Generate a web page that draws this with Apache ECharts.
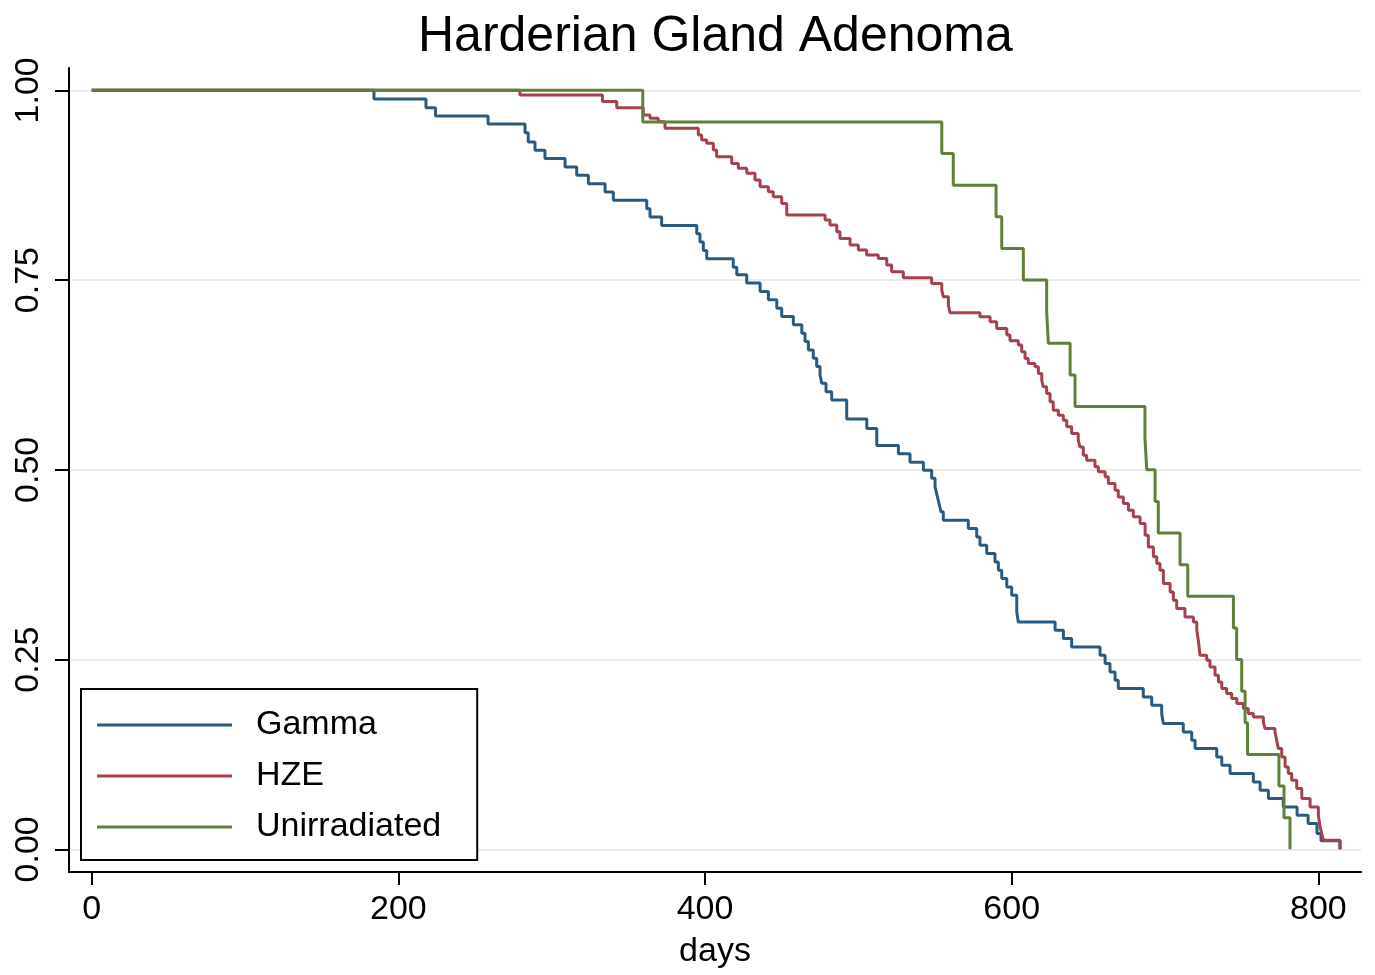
<!DOCTYPE html>
<html>
<head>
<meta charset="utf-8">
<script src="https://cdn.jsdelivr.net/npm/echarts@6/dist/echarts.min.js"></script>
<style>
  html, body { margin: 0; padding: 0; background: #fff; }
  #chart { width: 1375px; height: 975px; }
</style>
</head>
<body>
<div id="chart"></div>
<script>
const titleText = 'Harderian Gland Adenoma';
const xName = 'days';
const seriesNames = ['Gamma', 'HZE', 'Unirradiated'];
const xTicks = [0, 200, 400, 600, 800];
const yTicks = [0, 0.25, 0.5, 0.75, 1];

const gammaDays = [0, 184.1, 218.0, 224.2, 258.5, 282.6, 284.7, 289.1, 295.6, 308.7, 316.3, 323.9, 334.8, 340.2, 362.0, 364.1, 371.7, 394.6, 396.7, 398.9, 401.1, 418.4, 420.7, 427.2, 435.9, 441.3, 446.8, 450.0, 457.6, 463.1, 465.2, 467.4, 470.6, 472.8, 475.0, 476.1, 478.9, 482.6, 492.4, 505.5, 512.0, 526.1, 533.7, 542.4, 547.8, 550.0, 551.3, 552.6, 553.9, 555.4, 571.7, 577.2, 579.3, 583.7, 589.1, 591.3, 593.5, 596.8, 600.0, 603.3, 604.3, 628.3, 633.7, 639.1, 657.6, 660.9, 664.1, 667.4, 669.5, 685.8, 691.3, 697.8, 698.9, 711.9, 717.4, 719.6, 733.7, 737.0, 742.4, 757.6, 762.0, 767.4, 777.1, 786.1, 793.3, 799.1, 801.7, 814.1];
const gammaSurv = [1, 0.9885, 0.977, 0.966, 0.9556, 0.944, 0.932, 0.921, 0.910, 0.899, 0.888, 0.877, 0.866, 0.855, 0.844, 0.833, 0.822, 0.811, 0.800, 0.789, 0.778, 0.767, 0.757, 0.746, 0.735, 0.724, 0.713, 0.702, 0.691, 0.680, 0.669, 0.658, 0.647, 0.636, 0.625, 0.614, 0.603, 0.592, 0.567, 0.5545, 0.532, 0.521, 0.510, 0.4995, 0.489, 0.4775, 0.4666, 0.4556, 0.4446, 0.4336, 0.4227, 0.4116, 0.4007, 0.3897, 0.3787, 0.3677, 0.3568, 0.3457, 0.3348, 0.3128, 0.2996, 0.2886, 0.2777, 0.2666, 0.2557, 0.2448, 0.2337, 0.2227, 0.2118, 0.2007, 0.1898, 0.1789, 0.1657, 0.1546, 0.1437, 0.1327, 0.1217, 0.1107, 0.0998, 0.0887, 0.0778, 0.0668, 0.0558, 0.0448, 0.0339, 0.0207, 0.0112, 0];

const hzeDays = [0, 279.3, 333.1, 342.4, 359.7, 364.1, 369.5, 373.9, 395.6, 397.8, 401.1, 405.4, 407.6, 417.4, 421.7, 427.2, 432.6, 435.9, 441.3, 444.5, 450.0, 453.3, 478.3, 481.5, 485.9, 488.0, 494.6, 500.0, 505.4, 513.0, 518.5, 521.7, 529.3, 547.8, 554.4, 555.4, 558.7, 559.8, 579.3, 585.9, 590.2, 596.8, 598.9, 604.3, 606.5, 608.7, 610.8, 615.2, 617.4, 619.6, 620.6, 622.8, 625.0, 627.1, 630.4, 633.7, 635.9, 639.1, 643.4, 644.5, 646.7, 648.9, 654.3, 656.5, 660.9, 663.0, 667.4, 669.5, 672.8, 676.1, 679.3, 683.7, 687.0, 689.1, 692.4, 694.6, 696.7, 698.9, 703.3, 705.4, 707.6, 713.0, 718.5, 720.7, 721.7, 722.8, 727.2, 729.3, 732.6, 734.8, 737.0, 740.2, 743.5, 746.8, 751.1, 754.3, 757.6, 764.1, 765.2, 771.7, 772.8, 773.9, 776.1, 778.3, 780.4, 782.6, 785.9, 789.2, 794.6, 800.0, 801.1, 802.2, 803.2, 814.1];
const hzeSurv = [1, 0.9938, 0.9852, 0.9770, 0.9674, 0.9631, 0.9586, 0.9499, 0.9411, 0.9345, 0.9301, 0.9213, 0.9124, 0.9037, 0.8972, 0.8906, 0.8817, 0.8729, 0.8663, 0.8597, 0.8510, 0.8356, 0.8290, 0.8224, 0.8136, 0.8049, 0.7961, 0.7895, 0.7829, 0.7785, 0.7697, 0.7609, 0.7530, 0.7456, 0.7368, 0.7279, 0.7170, 0.7068, 0.7016, 0.6950, 0.6863, 0.6775, 0.6700, 0.6643, 0.6554, 0.6467, 0.6401, 0.6357, 0.6270, 0.6181, 0.6093, 0.6006, 0.5896, 0.5786, 0.5720, 0.5654, 0.5566, 0.5479, 0.5391, 0.5302, 0.5193, 0.5127, 0.5039, 0.4973, 0.4907, 0.4820, 0.4732, 0.4643, 0.4556, 0.4468, 0.4380, 0.4293, 0.4139, 0.3984, 0.3853, 0.3765, 0.3677, 0.3502, 0.3391, 0.3282, 0.3172, 0.3062, 0.2996, 0.2886, 0.2755, 0.2557, 0.2491, 0.2403, 0.2293, 0.2205, 0.2118, 0.2052, 0.1986, 0.1920, 0.1854, 0.1789, 0.1744, 0.1678, 0.1591, 0.1546, 0.1437, 0.1327, 0.1217, 0.1085, 0.0998, 0.0909, 0.0800, 0.0668, 0.0558, 0.0448, 0.0294, 0.0207, 0.0119, 0];

const unirrDays = [0, 359.4, 554.4, 561.9, 589.8, 593.5, 607.6, 622.8, 623.9, 638.1, 641.3, 686.9, 688.1, 693.5, 695.6, 709.8, 714.8, 744.6, 746.7, 750.0, 752.2, 753.8, 774.3, 777.6, 781.5];
const unirrSurv = [1, 0.9583, 0.9167, 0.875, 0.8333, 0.7917, 0.75, 0.7083, 0.6667, 0.625, 0.5833, 0.5417, 0.5, 0.4583, 0.4167, 0.375, 0.3333, 0.2917, 0.25, 0.2083, 0.1667, 0.125, 0.0833, 0.0417, 0];

const seriesColors = ['#2a5a80', '#a5404d', '#5f8038'];
const FONT = '"Liberation Sans", Arial, Helvetica, sans-serif';

function zip(xs, ys) { return xs.map((x, i) => [x, ys[i]]); }
const seriesData = [zip(gammaDays, gammaSurv), zip(hzeDays, hzeSurv), zip(unirrDays, unirrSurv)];

const chart = echarts.init(document.getElementById('chart'), null, { renderer: 'canvas' });
chart.setOption({
  animation: false,
  backgroundColor: '#fff',
  textStyle: { fontFamily: FONT },
  title: {
    text: titleText,
    left: 418,
    top: 12,
    padding: 0,
    textStyle: { fontFamily: FONT, fontSize: 50, fontWeight: 'normal', color: '#000' }
  },
  grid: { left: 69, right: 14, top: 68, bottom: 103, containLabel: false },
  legend: {
    orient: 'vertical',
    left: 81,
    top: 689,
    icon: 'rect',
    itemWidth: 135,
    itemHeight: 3,
    itemGap: 17,
    padding: [19, 36, 16, 16],
    borderColor: '#000',
    borderWidth: 2,
    backgroundColor: '#fff',
    textStyle: { fontFamily: FONT, fontSize: 34, color: '#000', padding: [0, 0, 0, 19] },
    data: seriesNames
  },
  xAxis: {
    type: 'value',
    min: -14.8,
    max: 827.8,
    name: xName,
    nameLocation: 'middle',
    nameGap: 63,
    nameTextStyle: { fontFamily: FONT, fontSize: 34, color: '#000' },
    axisLine: { show: true, onZero: false, lineStyle: { color: '#000', width: 2 } },
    axisTick: { show: true, length: 13, customValues: xTicks, lineStyle: { color: '#000', width: 2 } },
    axisLabel: { customValues: xTicks, fontFamily: FONT, fontSize: 34, color: '#000', margin: 21 },
    splitLine: { show: false }
  },
  yAxis: {
    type: 'value',
    min: -0.0299,
    max: 1.0294,
    axisLine: { show: true, onZero: false, lineStyle: { color: '#000', width: 2 } },
    axisTick: { show: true, length: 14, customValues: yTicks, lineStyle: { color: '#000', width: 2 } },
    axisLabel: {
      customValues: yTicks,
      rotate: 90,
      fontFamily: FONT, fontSize: 34, color: '#000', margin: 23,
      formatter: v => Number(v).toFixed(2)
    },
    splitLine: { show: true, lineStyle: { color: '#ebebeb', width: 2 } }
  },
  series: seriesNames.map((name, i) => ({
    name,
    type: 'line',
    step: 'end',
    data: seriesData[i],
    showSymbol: false,
    symbol: 'none',
    color: seriesColors[i],
    lineStyle: { color: seriesColors[i], width: 3 },
    z: 2 + i
  }))
});
</script>
</body>
</html>
